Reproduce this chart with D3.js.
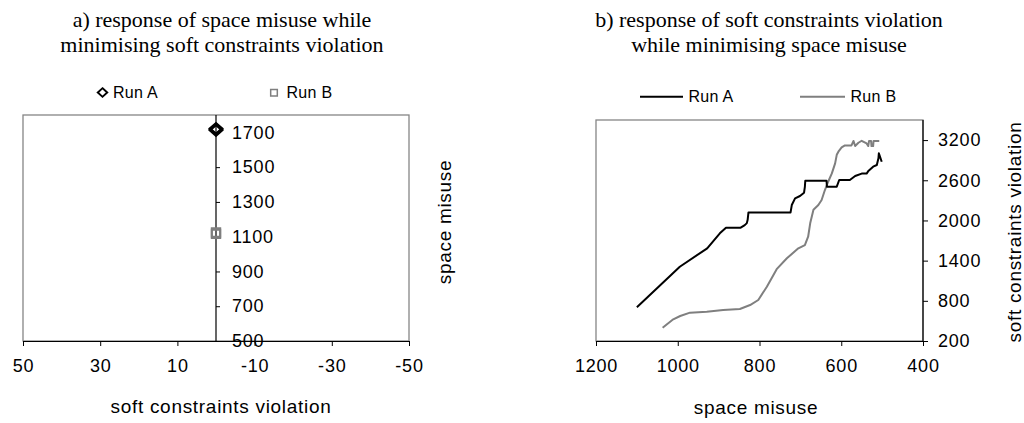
<!DOCTYPE html>
<html>
<head>
<meta charset="utf-8">
<script src="https://cdn.jsdelivr.net/npm/d3@7"></script>
<style>
  html, body { margin: 0; padding: 0; background: #fff; }
  svg { display: block; }
  text { font-family: Arial, "Liberation Sans", sans-serif; fill: #000; }
  .title { font-family: "Times New Roman", "Liberation Serif", serif; font-size: 22px; }
</style>
</head>
<body>
<svg id="chart" width="1024" height="423"></svg>
<script>
// ---------- data ----------
const seriesNames = ["Run A", "Run B"];

// chart a) scatter: soft constraints violation (x) vs space misuse (y)
const leftXTicks = [50, 30, 10, -10, -30, -50];
const leftYTicks = [500, 700, 900, 1100, 1300, 1500, 1700];
const leftRunA_scv = [0, 0, 0];
const leftRunA_space = [1712, 1718, 1722];
const leftRunB_scv = [0, 0];
const leftRunB_space = [1116, 1124];

// chart b) lines: space misuse (x) vs soft constraints violation (y)
const rightXTicks = [1200, 1000, 800, 600, 400];
const rightYTicks = [200, 800, 1400, 2000, 2600, 3200];
const rightRunA_space = [1100, 995, 928, 897, 882, 846, 836, 831, 829, 827, 724, 721, 713, 701, 691, 689, 688, 636, 635, 611, 605, 579, 566, 550, 538, 533, 522, 513, 509, 508, 501];
const rightRunA_scv   = [703, 1309, 1584, 1808, 1892, 1892, 1930, 1960, 2010, 2120, 2120, 2230, 2330, 2365, 2414, 2500, 2593, 2593, 2504, 2504, 2604, 2604, 2663, 2700, 2700, 2743, 2803, 2828, 2928, 3002, 2877];
const rightRunB_space = [1037, 1011, 994, 970, 929, 889, 848, 823, 803, 782, 758, 733, 705, 689, 681, 676, 668, 656, 648, 640, 632, 623, 615, 611, 607, 599, 591, 575, 570, 566, 558, 550, 538, 534, 532, 527, 526, 522, 521, 507];
const rightRunB_scv   = [399, 524, 573, 623, 638, 663, 678, 737, 812, 1010, 1273, 1435, 1584, 1633, 1757, 1957, 2160, 2230, 2305, 2454, 2578, 2703, 2853, 2980, 3027, 3090, 3120, 3120, 3186, 3112, 3160, 3190, 3150, 3111, 3186, 3186, 3111, 3111, 3186, 3186];

// ---------- drawing ----------
const svg = d3.select("#chart");
const AXIS = "#000";
const BORDER = "#868686";
const GRAY = "#7f7f7f";

function frame(x0, x1, y0, y1) {
  svg.append("rect").attr("x", x0).attr("y", y0).attr("width", x1 - x0).attr("height", y1 - y0)
    .attr("fill", "none").attr("stroke", BORDER).attr("stroke-width", 1.3);
}

function styleAxis(g) {
  g.selectAll("path.domain").attr("stroke", AXIS).attr("stroke-width", 1.2);
  g.selectAll(".tick line").attr("stroke", AXIS).attr("stroke-width", 1);
  g.selectAll(".tick text").style("font-size", "18px").style("letter-spacing", "0.8px").attr("fill", "#000");
  g.attr("font-family", null).attr("font-size", null);
}

function title(cx, lines) {
  const t = svg.append("text").attr("class", "title").attr("text-anchor", "middle");
  lines.forEach((l, i) => t.append("tspan").attr("x", cx).attr("y", 27 + i * 25).text(l));
}

function axisTitle(x, y, txt, rotate) {
  const t = svg.append("text").attr("text-anchor", "middle")
    .style("font-size", "19px").style("letter-spacing", "0.7px").text(txt);
  if (rotate) t.attr("transform", `translate(${x},${y}) rotate(-90)`);
  else t.attr("x", x).attr("y", y);
}

// ===== chart a =====
const xL = d3.scaleLinear().domain([50, -50]).range([23, 409]);
const yL = d3.scaleLinear().domain([500, 1800]).range([341, 115]);

title(222, ["a) response of space misuse while", "minimising soft constraints violation"]);
frame(xL.range()[0], xL.range()[1], yL.range()[1], yL.range()[0]);

const gxL = svg.append("g").attr("transform", `translate(0,${yL(500)})`)
  .call(d3.axisBottom(xL).tickValues(leftXTicks).tickSize(5).tickSizeOuter(0).tickPadding(13).tickFormat(d => String(d)));
styleAxis(gxL);

const gyL = svg.append("g").attr("transform", `translate(${xL(0)},0)`)
  .call(d3.axisRight(yL).tickValues(leftYTicks).tickSize(4).tickSizeOuter(0).tickPadding(12).tickFormat(d => String(d)));
gyL.select("path.domain").attr("d", `M0,${yL(500)}V${yL(1800)}`);
styleAxis(gyL);

axisTitle(221, 413, "soft constraints violation", false);
axisTitle(451, 222, "space misuse", true);

const diamond = d3.symbol().type(d3.symbolDiamond2).size(70);
const square = d3.symbol().type(d3.symbolSquare2).size(90);

svg.append("g").selectAll("path").data(leftRunB_space.map((v, i) => [leftRunB_scv[i], v])).join("path")
  .attr("d", square).attr("transform", d => `translate(${xL(d[0])},${yL(d[1])})`)
  .attr("fill", "none").attr("stroke", GRAY).attr("stroke-width", 2);
svg.append("g").selectAll("path").data(leftRunA_space.map((v, i) => [leftRunA_scv[i], v])).join("path")
  .attr("d", diamond).attr("transform", d => `translate(${xL(d[0])},${yL(d[1])}) scale(1.15,1)`)
  .attr("fill", "none").attr("stroke", "#000").attr("stroke-width", 2.3);

// legend a
svg.append("path").attr("d", d3.symbol().type(d3.symbolDiamond2).size(48))
  .attr("transform", "translate(102.5,92.5) scale(1.1,1)").attr("fill", "none").attr("stroke", "#000").attr("stroke-width", 1.8);
svg.append("text").attr("x", 113).attr("y", 97.5).style("font-size", "16px").style("letter-spacing", "0.3px").text(seriesNames[0]);
svg.append("path").attr("d", d3.symbol().type(d3.symbolSquare2).size(56))
  .attr("transform", "translate(274,92.8)").attr("fill", "none").attr("stroke", GRAY).attr("stroke-width", 1.5);
svg.append("text").attr("x", 286.5).attr("y", 97.5).style("font-size", "16px").style("letter-spacing", "0.3px").text(seriesNames[1]);

// ===== chart b =====
const xR = d3.scaleLinear().domain([1200, 400]).range([596, 923]);
const yR = d3.scaleLinear().domain([200, 3500]).range([341, 120]);

title(769, ["b) response of soft constraints violation", "while minimising space misuse"]);
frame(xR.range()[0], xR.range()[1], yR.range()[1], yR.range()[0]);

const gxR = svg.append("g").attr("transform", `translate(0,${yR(200)})`)
  .call(d3.axisBottom(xR).tickValues(rightXTicks).tickSize(5).tickSizeOuter(0).tickPadding(13).tickFormat(d => String(d)));
styleAxis(gxR);

const gyR = svg.append("g").attr("transform", `translate(${xR(400)},0)`)
  .call(d3.axisRight(yR).tickValues(rightYTicks).tickSize(5).tickSizeOuter(0).tickPadding(10).tickFormat(d => String(d)));
gyR.select("path.domain").attr("d", `M0,${yR(200)}V${yR(3500)}`);
styleAxis(gyR);

axisTitle(756, 414, "space misuse", false);
axisTitle(1021, 232, "soft constraints violation", true);

const lineR = d3.line().x(d => xR(d[0])).y(d => yR(d[1]));
svg.append("path").datum(rightRunB_space.map((v, i) => [v, rightRunB_scv[i]]))
  .attr("d", lineR).attr("fill", "none").attr("stroke", GRAY).attr("stroke-width", 2).attr("stroke-linejoin", "round");
svg.append("path").datum(rightRunA_space.map((v, i) => [v, rightRunA_scv[i]]))
  .attr("d", lineR).attr("fill", "none").attr("stroke", "#000").attr("stroke-width", 2).attr("stroke-linejoin", "round");

// legend b
svg.append("line").attr("x1", 640).attr("x2", 683).attr("y1", 96.7).attr("y2", 96.7).attr("stroke", "#000").attr("stroke-width", 2);
svg.append("text").attr("x", 688.5).attr("y", 102).style("font-size", "16px").style("letter-spacing", "0.3px").text(seriesNames[0]);
svg.append("line").attr("x1", 800).attr("x2", 845).attr("y1", 96.7).attr("y2", 96.7).attr("stroke", GRAY).attr("stroke-width", 2);
svg.append("text").attr("x", 850.5).attr("y", 102).style("font-size", "16px").style("letter-spacing", "0.3px").text(seriesNames[1]);
</script>
</body>
</html>
